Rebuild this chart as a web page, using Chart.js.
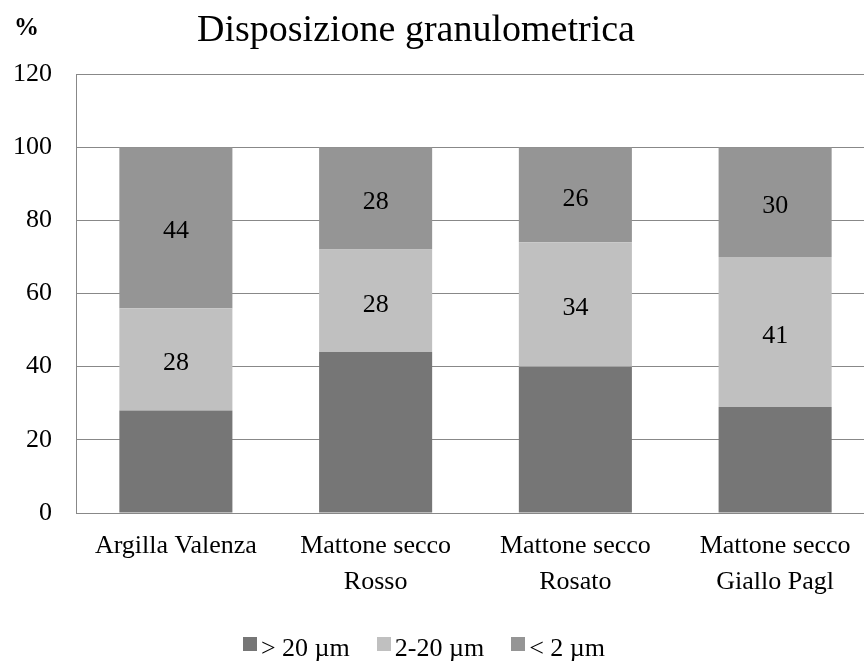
<!DOCTYPE html>
<html>
<head>
<meta charset="utf-8">
<script src="https://cdn.jsdelivr.net/npm/chart.js@4/dist/chart.umd.min.js"></script>
<style>
  html, body { margin: 0; padding: 0; background: #ffffff; overflow: hidden; }
  #wrap { width: 864px; height: 662px; position: relative; overflow: hidden; }
  #c { display: block; width: 875px; height: 662px; }
</style>
</head>
<body>
<div id="wrap"><canvas id="c" width="875" height="662"></canvas></div>
<script>
// Campioni analizzati
const categories = [
  ['Argilla Valenza'],
  ['Mattone secco', 'Rosso'],
  ['Mattone secco', 'Rosato'],
  ['Mattone secco', 'Giallo Pagl']
];

// Frazioni granulometriche (%)
const seriesNames = ['> 20 \u00b5m', '2-20 \u00b5m', '< 2 \u00b5m'];
const coarse = [28, 44, 40, 29];   // > 20 µm
const silt   = [28, 28, 34, 41];   // 2-20 µm
const clay   = [44, 28, 26, 30];   // < 2 µm

const yTicks = [0, 20, 40, 60, 80, 100, 120];

const FONT = "'Liberation Serif', 'Times New Roman', serif";
const colors = ['#767676', '#c0c0c0', '#959595'];

// Titolo e unità di misura
const headerPlugin = {
  id: 'header',
  afterDraw(chart) {
    const ctx = chart.ctx;
    ctx.save();
    ctx.fillStyle = '#000';
    ctx.textBaseline = 'alphabetic';
    ctx.textAlign = 'left';
    ctx.font = 'bold 25px ' + FONT;
    ctx.fillText('%', 14, 35);
    ctx.textAlign = 'center';
    ctx.font = '38px ' + FONT;
    ctx.fillText('Disposizione granulometrica', 416, 41);
    ctx.restore();
  }
};

// Legenda in basso: quadratino + nome della serie
const bottomLegend = {
  id: 'bottomLegend',
  afterDraw(chart) {
    const ctx = chart.ctx;
    const box = 14, gapText = 4, gapItem = 27, centerX = 424, boxTop = 637, baseY = 656;
    ctx.save();
    ctx.font = '26px ' + FONT;
    const sets = chart.data.datasets;
    const widths = sets.map(ds => ctx.measureText(ds.label).width);
    let total = 0;
    widths.forEach((w, i) => { total += box + gapText + w + (i < widths.length - 1 ? gapItem : 0); });
    let x = centerX - total / 2;
    ctx.textAlign = 'left';
    ctx.textBaseline = 'alphabetic';
    sets.forEach((ds, i) => {
      ctx.fillStyle = ds.backgroundColor;
      ctx.fillRect(Math.round(x), boxTop, box, box);
      x += box + gapText;
      ctx.fillStyle = '#000';
      ctx.fillText(ds.label, x, baseY);
      x += widths[i] + gapItem;
    });
    ctx.restore();
  }
};

// Valori nei segmenti delle due frazioni fini
const valueLabels = {
  id: 'valueLabels',
  afterDatasetsDraw(chart) {
    const ctx = chart.ctx;
    ctx.save();
    ctx.fillStyle = '#000';
    ctx.font = '26px ' + FONT;
    ctx.textAlign = 'center';
    ctx.textBaseline = 'middle';
    [1, 2].forEach(di => {
      const meta = chart.getDatasetMeta(di);
      const data = chart.data.datasets[di].data;
      meta.data.forEach((bar, i) => {
        const yMid = (bar.y + bar.base) / 2;
        ctx.fillText(String(data[i]), bar.x, yMid + 4);
      });
    });
    ctx.restore();
  }
};

new Chart(document.getElementById('c'), {
  type: 'bar',
  data: {
    labels: categories,
    datasets: [
      { label: seriesNames[0], data: coarse, backgroundColor: colors[0] },
      { label: seriesNames[1], data: silt, backgroundColor: colors[1] },
      { label: seriesNames[2], data: clay, backgroundColor: colors[2] }
    ]
  },
  options: {
    responsive: false,
    animation: false,
    devicePixelRatio: 1,
    layout: { padding: { top: 74, right: 0, left: 0, bottom: 51 } },
    datasets: {
      bar: { categoryPercentage: 1.0, barPercentage: 0.566, borderWidth: 0 }
    },
    scales: {
      x: {
        stacked: true,
        grid: { display: false, drawTicks: false },
        border: { display: false },
        ticks: {
          color: '#000',
          font: { family: FONT, size: 26, lineHeight: 1.4 },
          padding: 15,
          maxRotation: 0,
          autoSkip: false
        },
        afterFit(scale) { scale.height = 98; }
      },
      y: {
        stacked: true,
        min: 0,
        max: 120,
        afterBuildTicks(scale) { scale.ticks = yTicks.map(v => ({ value: v })); },
        grid: { color: '#888888', lineWidth: 1, drawTicks: false },
        border: { display: true, color: '#888888', width: 1 },
        ticks: {
          color: '#000',
          font: { family: FONT, size: 26 },
          padding: 24
        },
        afterFit(scale) { scale.width = 76; }
      }
    },
    plugins: {
      title: { display: false },
      tooltip: { enabled: false },
      legend: { display: false }
    }
  },
  plugins: [headerPlugin, bottomLegend, valueLabels]
});
</script>
</body>
</html>
